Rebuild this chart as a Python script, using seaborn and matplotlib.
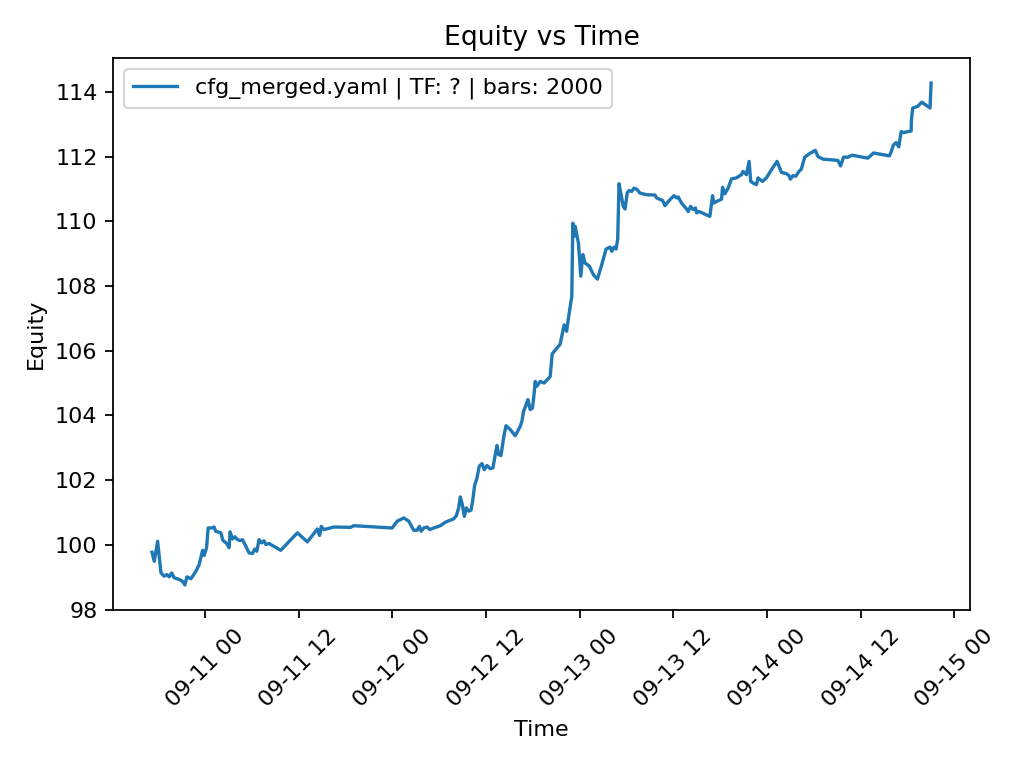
import matplotlib
matplotlib.use("Agg")
import matplotlib.dates as mdates
import matplotlib.pyplot as plt
import pandas as pd
import seaborn as sns

# hours since 2025-09-10 00:00
hours = [
    17.23, 17.52, 17.95, 18.38, 18.80, 19.14, 19.44, 19.74, 20.08, 20.71,
    21.15, 21.44, 21.70, 22.21, 22.85, 23.27, 23.71, 23.91, 24.22, 24.42,
    24.86, 25.19, 25.37, 26.05, 26.30, 26.81, 27.11, 27.23, 27.54, 27.83,
    28.18, 28.51, 28.82, 29.24, 29.66, 30.10, 30.39, 30.65, 30.94, 31.25,
    31.58, 31.80, 32.22, 33.72, 35.85, 37.13, 38.41, 38.70, 38.92, 39.25,
    40.53, 42.66, 43.08, 47.99, 48.63, 49.05, 49.48, 50.12, 50.75, 51.19,
    51.48, 51.70, 52.03, 52.47, 52.80, 53.53, 54.17, 54.81, 55.45, 55.87,
    56.21, 56.51, 56.72, 56.98, 57.24, 57.49, 57.79, 58.09, 58.30, 58.55,
    58.86, 59.15, 59.50, 59.79, 60.14, 60.56, 60.90, 61.20, 61.42, 61.62,
    61.93, 62.26, 62.57, 63.12, 63.76, 64.39, 64.61, 64.82, 65.16, 65.38,
    65.67, 65.97, 66.18, 66.31, 66.53, 66.95, 67.46, 68.23, 68.49, 69.00,
    69.51, 70.02, 70.34, 70.57, 71.00, 71.13, 71.30, 71.43, 71.64, 71.85,
    72.15, 72.41, 72.70, 73.25, 73.76, 74.28, 74.84, 75.39, 75.90, 76.12,
    76.41, 76.67, 76.88, 77.05, 77.27, 77.60, 77.82, 78.11, 78.37, 78.67,
    78.97, 79.31, 79.73, 80.59, 81.65, 81.87, 82.64, 82.93, 83.35, 84.08,
    84.43, 84.63, 85.06, 85.70, 85.91, 86.21, 86.55, 86.85, 86.98, 87.31,
    88.68, 89.03, 89.19, 89.54, 90.18, 90.31, 90.60, 91.02, 91.46, 92.09,
    92.73, 92.94, 93.37, 93.71, 93.92, 94.22, 94.65, 94.86, 95.42, 95.93,
    96.57, 97.29, 97.85, 98.49, 98.82, 99.00, 99.33, 99.68, 100.10, 100.40,
    100.83, 101.46, 102.19, 102.53, 103.17, 105.08, 105.43, 105.81, 106.36, 106.92,
    108.92, 109.65, 111.69, 111.91, 112.20, 112.55, 112.88, 113.19, 113.48, 114.47,
    114.50, 114.67, 115.31, 115.82, 116.17, 116.46, 116.89, 117.02,
]

equity = [
    99.77, 99.49, 100.11, 99.13, 99.03, 99.08, 99.01, 99.13, 98.98, 98.93,
    98.87, 98.76, 99.01, 98.95, 99.18, 99.39, 99.83, 99.67, 99.91, 100.52,
    100.52, 100.55, 100.42, 100.37, 100.14, 100.04, 99.91, 100.40, 100.18, 100.25,
    100.16, 100.13, 100.16, 99.96, 99.75, 99.73, 99.87, 99.80, 100.16, 100.06,
    100.12, 100.01, 100.04, 99.83, 100.37, 100.09, 100.49, 100.29, 100.57, 100.47,
    100.55, 100.54, 100.59, 100.52, 100.73, 100.78, 100.83, 100.73, 100.45, 100.45,
    100.57, 100.42, 100.52, 100.55, 100.47, 100.54, 100.59, 100.70, 100.76, 100.80,
    100.90, 101.14, 101.48, 101.24, 100.88, 101.14, 101.04, 101.07, 101.35, 101.83,
    102.07, 102.43, 102.51, 102.32, 102.45, 102.35, 102.38, 102.79, 103.07, 102.79,
    102.76, 103.30, 103.68, 103.56, 103.37, 103.66, 103.82, 104.13, 104.33, 104.49,
    104.18, 104.23, 104.69, 105.05, 104.90, 105.05, 105.00, 105.20, 105.90, 106.05,
    106.20, 106.80, 106.60, 107.01, 107.68, 109.94, 109.53, 109.84, 109.58, 109.33,
    108.30, 108.97, 108.71, 108.61, 108.35, 108.21, 108.66, 109.14, 109.20, 109.07,
    109.20, 109.14, 109.45, 111.16, 110.87, 110.46, 110.38, 110.89, 110.95, 110.92,
    111.02, 110.99, 110.87, 110.82, 110.81, 110.72, 110.64, 110.48, 110.61, 110.79,
    110.72, 110.75, 110.56, 110.38, 110.30, 110.46, 110.36, 110.41, 110.26, 110.30,
    110.15, 110.79, 110.56, 110.61, 110.68, 111.05, 110.85, 111.02, 111.31, 111.34,
    111.44, 111.54, 111.44, 111.85, 111.23, 111.18, 111.13, 111.34, 111.23, 111.34,
    111.59, 111.85, 111.51, 111.47, 111.41, 111.30, 111.41, 111.39, 111.54, 111.61,
    111.98, 112.09, 112.19, 112.00, 111.92, 111.88, 111.71, 111.98, 111.98, 112.04,
    111.95, 112.11, 112.02, 112.15, 112.36, 112.43, 112.30, 112.77, 112.74, 112.79,
    113.13, 113.50, 113.55, 113.68, 113.62, 113.57, 113.50, 114.27,
]

label = "cfg_merged.yaml | TF: ? | bars: 2000"

df = pd.DataFrame({
    "time": pd.Timestamp("2025-09-10") + pd.to_timedelta(hours, unit="h"),
    "equity": equity,
})

fig, ax = plt.subplots(figsize=(6.4, 4.8), dpi=160)
sns.lineplot(data=df, x="time", y="equity", ax=ax, label=label,
             color="#1f77b4", linewidth=1.5, estimator=None, sort=False)
ax.set_title("Equity vs Time")
ax.set_xlabel("Time")
ax.set_ylabel("Equity")
ax.xaxis.set_major_locator(mdates.HourLocator(byhour=[0, 12]))
ax.xaxis.set_major_formatter(mdates.DateFormatter("%m-%d %H"))
plt.setp(ax.get_xticklabels(), rotation=45)
ax.legend(loc="upper left")

fig.subplots_adjust(left=0.1104, right=0.9473, top=0.9245, bottom=0.2057)
plt.savefig("out.png")
